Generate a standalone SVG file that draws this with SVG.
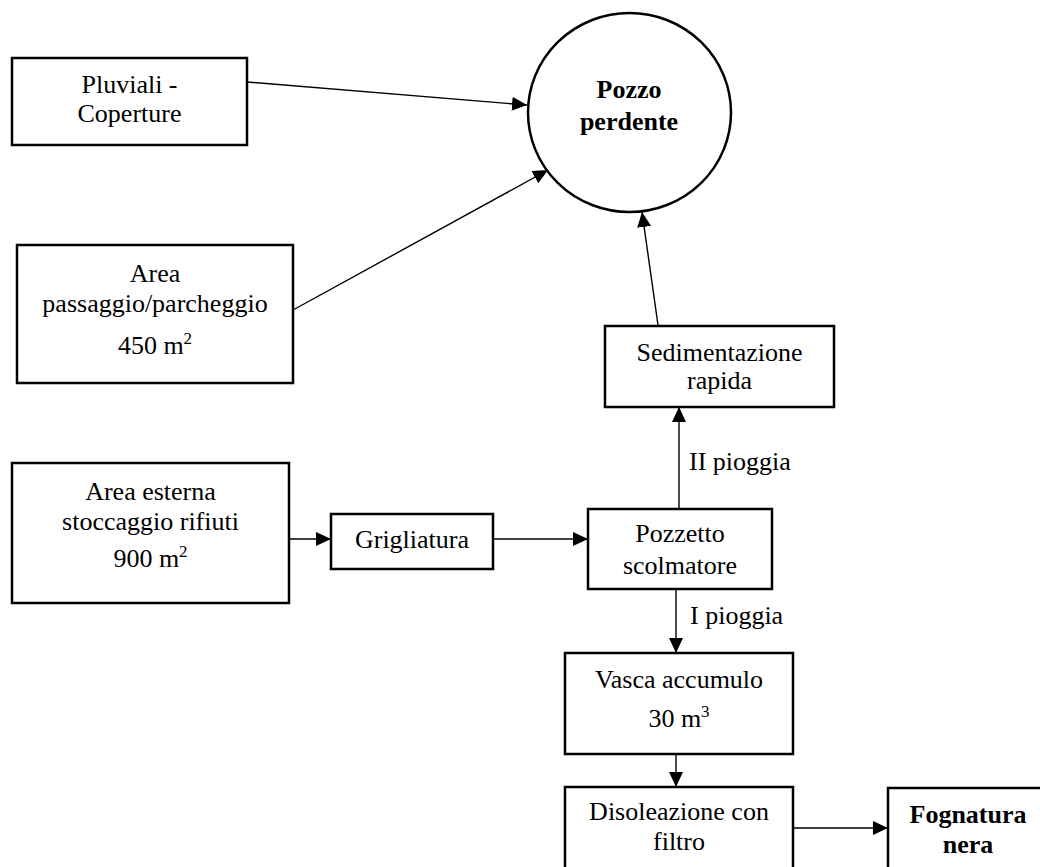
<svg xmlns="http://www.w3.org/2000/svg" width="1040" height="867" viewBox="0 0 1040 867">
<defs>
<marker id="ah" markerUnits="userSpaceOnUse" markerWidth="16" markerHeight="14" refX="15" refY="7" orient="auto">
<path d="M0,0 L15,7 L0,14 Z" fill="#000"/>
</marker>
<style>
.box{fill:#fff;stroke:#000;stroke-width:2.5}
.t{font-family:"Liberation Serif","Times New Roman",serif;font-size:26px;fill:#000;text-anchor:middle}
.b{font-weight:bold}
.lbl{font-family:"Liberation Serif","Times New Roman",serif;font-size:26px;fill:#000}
.c{fill:none;stroke:#000;stroke-width:1.4;marker-end:url(#ah)}
</style>
</defs>
<rect width="1040" height="867" fill="#fff"/>
<g id="connectors">
<line class="c" x1="247" y1="82" x2="527" y2="105"/>
<line class="c" x1="293" y1="310" x2="548" y2="170"/>
<line class="c" x1="658" y1="325" x2="642" y2="212"/>
<line class="c" x1="289" y1="539" x2="331" y2="539"/>
<line class="c" x1="493" y1="539" x2="588" y2="539"/>
<line class="c" x1="679" y1="509" x2="679" y2="407"/>
<line class="c" x1="676" y1="589" x2="676" y2="653"/>
<line class="c" x1="676" y1="754" x2="676" y2="787"/>
<line class="c" x1="793" y1="828" x2="888" y2="828"/>
<text class="lbl" x="689" y="470">II pioggia</text>
<text class="lbl" x="690" y="624">I pioggia</text>
</g>
<g id="pozzo">
<ellipse class="box" cx="629.5" cy="112.5" rx="101.5" ry="99.5"/>
<text class="t b" x="629" y="98">Pozzo</text>
<text class="t b" x="629" y="130">perdente</text>
</g>
<g id="pluviali">
<rect class="box" x="12" y="58" width="235" height="87"/>
<text class="t" x="129.5" y="93">Pluviali -</text>
<text class="t" x="129.5" y="122">Coperture</text>
</g>
<g id="passaggio">
<rect class="box" x="17" y="245" width="276" height="138"/>
<text class="t" x="155" y="282">Area</text>
<text class="t" x="155" y="312">passaggio/parcheggio</text>
<text class="t" x="155" y="354">450 m<tspan font-size="17" dy="-10">2</tspan></text>
</g>
<g id="esterna">
<rect class="box" x="12" y="463" width="277" height="140"/>
<text class="t" x="150.5" y="500">Area esterna</text>
<text class="t" x="150.5" y="530">stoccaggio rifiuti</text>
<text class="t" x="150.5" y="567">900 m<tspan font-size="17" dy="-10">2</tspan></text>
</g>
<g id="grigliatura">
<rect class="box" x="331" y="514" width="162" height="55"/>
<text class="t" x="412" y="548">Grigliatura</text>
</g>
<g id="sedimentazione">
<rect class="box" x="605" y="326" width="229" height="81"/>
<text class="t" x="719.5" y="361">Sedimentazione</text>
<text class="t" x="719.5" y="389">rapida</text>
</g>
<g id="pozzetto">
<rect class="box" x="588" y="509" width="184" height="80"/>
<text class="t" x="680" y="542">Pozzetto</text>
<text class="t" x="680" y="574">scolmatore</text>
</g>
<g id="vasca">
<rect class="box" x="565" y="653" width="228" height="101"/>
<text class="t" x="679" y="688">Vasca accumulo</text>
<text class="t" x="679" y="727">30 m<tspan font-size="17" dy="-10">3</tspan></text>
</g>
<g id="disoleazione">
<rect class="box" x="565" y="787" width="228" height="90"/>
<text class="t" x="679" y="820">Disoleazione con</text>
<text class="t" x="679" y="850">filtro</text>
</g>
<g id="fognatura">
<rect class="box" x="888" y="788" width="160" height="90"/>
<text class="t b" x="968" y="823">Fognatura</text>
<text class="t b" x="968" y="853">nera</text>
</g>
</svg>
